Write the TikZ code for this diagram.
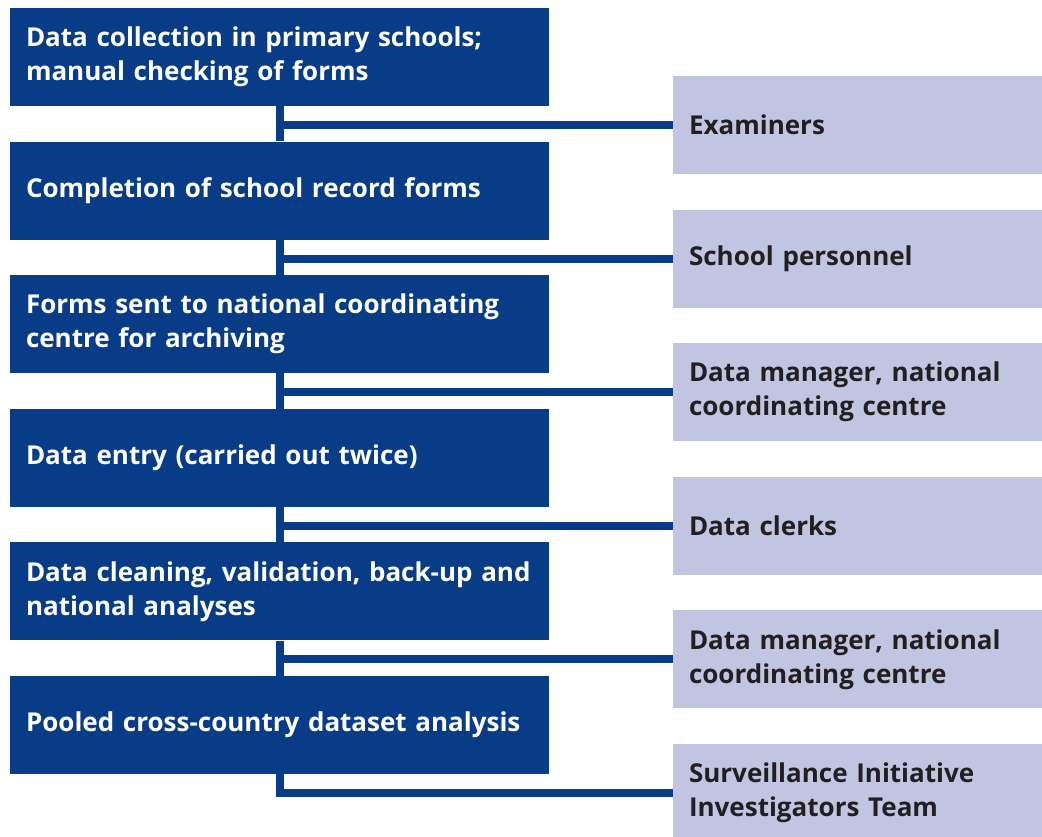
\documentclass[tikz,border=0pt]{standalone}
\usepackage{fontspec}
\setmainfont{Open Sans}
\usepackage{tikz}
\usetikzlibrary{positioning}
\definecolor{stepblue}{HTML}{083C87}
\definecolor{rolelilac}{HTML}{C2C5E1}
\definecolor{roletext}{HTML}{231F20}

\begin{document}
\begin{tikzpicture}[x=1pt,y=1pt,node distance=133.6pt,on grid,
  stepbox/.style={fill=stepblue,text=white,font=\fontsize{26}{34}\selectfont\bfseries,
    text width=507pt,inner xsep=16pt,inner ysep=0pt,minimum height=98pt,align=left},
  rolebox/.style={fill=rolelilac,text=roletext,font=\fontsize{26}{34}\selectfont\bfseries,
    text width=337pt,inner xsep=16pt,inner ysep=0pt,minimum height=98pt,align=left},
  link/.style={draw=stepblue,line width=8pt}]
  \useasboundingbox (0,0) rectangle (1042,-837);
  \node[stepbox]          (s1) at (279.5,-57)        {Data collection in primary schools;\\manual checking of forms};
  \node[stepbox]          (s2) [below =of s1]        {Completion of school record forms};
  \node[stepbox]          (s3) [below =of s2]        {Forms sent to national coordinating\\centre for archiving};
  \node[stepbox]          (s4) [below =of s3]        {Data entry (carried out twice)};
  \node[stepbox]          (s5) [below =of s4]        {Data cleaning, validation, back-up and\\national analyses};
  \node[stepbox]          (s6) [below =of s5]        {Pooled cross-country dataset analysis};
  \node[rolebox]          (r1) [below right =68pt and 578pt of s1] {Examiners};
  \node[rolebox]          (r2) [below =of r1]        {School personnel};
  \node[rolebox]          (r3) [below =of r2]        {Data manager, national\\coordinating centre};
  \node[rolebox]          (r4) [below =of r3]        {Data clerks};
  \node[rolebox]          (r5) [below =of r4]        {Data manager, national\\coordinating centre};
  \node[rolebox]          (r6) [below =of r5]        {Surveillance Initiative\\Investigators Team};
  % trunk between the steps
  \draw[link] (s1.south) -- (s2.north)
              (s2.south) -- (s3.north)
              (s3.south) -- (s4.north)
              (s4.south) -- (s5.north)
              (s5.south) -- (s6.north);
  % branches to who does it
  \draw[link] (s1.south) |- (r1.west);
  \draw[link] (s2.south) |- (r2.west);
  \draw[link] (s3.south) |- (r3.west);
  \draw[link] (s4.south) |- (r4.west);
  \draw[link] (s5.south) |- (r5.west);
  \draw[link] (s6.south) |- (r6.west);
\end{tikzpicture}
\end{document}
